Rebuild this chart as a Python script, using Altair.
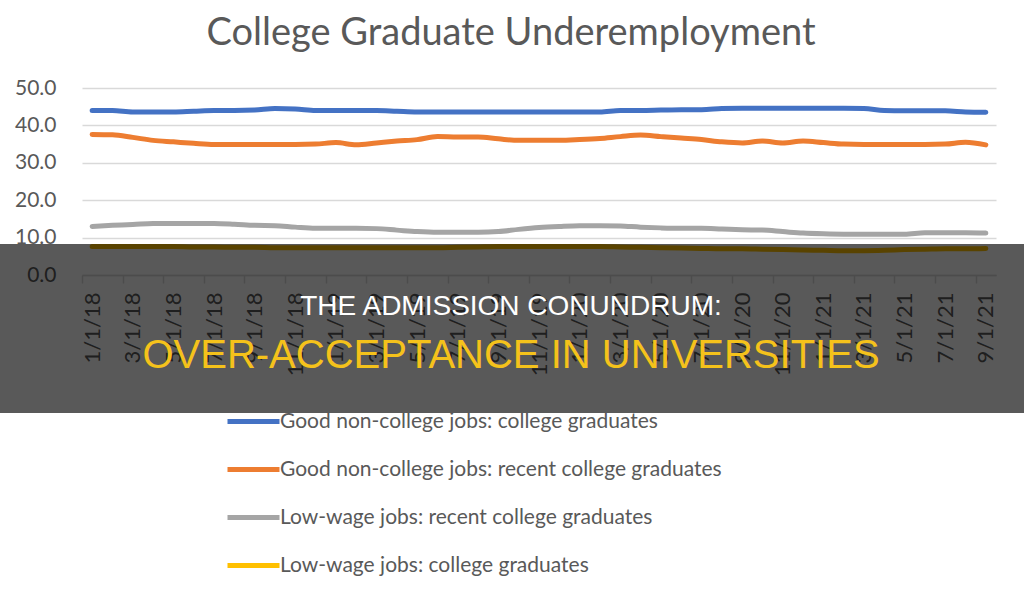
import altair as alt
import pandas as pd

# ---- data ----
months = [f"{m}/1/{y}" for y in (18, 19, 20, 21) for m in range(1, 13)][:45]

series_names = [
    "Good non-college jobs: college graduates",
    "Good non-college jobs: recent college graduates",
    "Low-wage jobs: recent college graduates",
    "Low-wage jobs: college graduates",
]
series_colors = ["#4472C4", "#ED7D31", "#A5A5A5", "#FFC000"]

good_grads = [44.0, 44.0, 43.6, 43.6, 43.6, 43.8, 44.0, 44.0, 44.1, 44.5,
              44.4, 44.0, 44.0, 44.0, 44.0, 43.8, 43.6, 43.6, 43.6, 43.6,
              43.6, 43.6, 43.6, 43.6, 43.6, 43.6, 44.0, 44.0, 44.1, 44.2,
              44.2, 44.5, 44.6, 44.6, 44.6, 44.6, 44.6, 44.6, 44.5, 44.0,
              43.9, 43.9, 43.9, 43.6, 43.5]
good_recent = [37.6, 37.5, 36.8, 36.0, 35.6, 35.2, 34.9, 34.9, 34.9, 34.9,
               34.9, 35.0, 35.4, 34.8, 35.3, 35.8, 36.2, 37.0, 36.9, 36.9,
               36.4, 36.0, 36.0, 36.0, 36.2, 36.5, 37.0, 37.4, 37.0, 36.6,
               36.2, 35.6, 35.3, 35.8, 35.3, 35.8, 35.4, 35.0, 34.9, 34.9,
               34.9, 34.9, 35.0, 35.5, 34.8]
low_recent = [13.0, 13.3, 13.5, 13.8, 13.8, 13.8, 13.8, 13.6, 13.3, 13.2,
              12.8, 12.5, 12.5, 12.5, 12.4, 12.0, 11.6, 11.4, 11.4, 11.4,
              11.6, 12.2, 12.7, 13.0, 13.2, 13.2, 13.1, 12.8, 12.6, 12.5,
              12.5, 12.3, 12.1, 12.0, 11.6, 11.2, 11.0, 10.9, 10.9, 10.9,
              10.9, 11.3, 11.3, 11.3, 11.2]
low_grads = [7.6, 7.6, 7.6, 7.6, 7.6, 7.5, 7.5, 7.4, 7.4, 7.3,
             7.3, 7.3, 7.3, 7.3, 7.3, 7.3, 7.3, 7.3, 7.4, 7.5,
             7.6, 7.6, 7.6, 7.6, 7.6, 7.6, 7.5, 7.4, 7.3, 7.2,
             7.1, 7.0, 7.0, 6.9, 6.8, 6.7, 6.6, 6.5, 6.5, 6.6,
             6.8, 6.9, 7.0, 7.0, 7.1]

y_ticks = [0, 10, 20, 30, 40, 50]
chart_title = "College Graduate Underemployment"
overlay_line1 = ["THE ADMISSION CONUNDRUM:"]
overlay_line2 = ["OVER-ACCEPTANCE IN UNIVERSITIES"]

# ---- build table ----
rows = []
for name, vals in zip(series_names, [good_grads, good_recent, low_recent, low_grads]):
    for i, v in enumerate(vals):
        rows.append({"idx": i, "month": months[i], "series": name, "value": v})
df = pd.DataFrame(rows)

W, H = 914, 187
LEFT, TOP = 82, 88
half_band = W / len(months) / 2

label_array = "[" + ",".join(f"'{m}'" for m in months) + "]"

lines = alt.Chart(df).mark_line(strokeWidth=5, interpolate="monotone", strokeCap="round").encode(
    x=alt.X("idx:Q",
            scale=alt.Scale(domain=[-0.5, len(months) - 0.5], nice=False, zero=False),
            axis=alt.Axis(values=list(range(0, len(months), 2)),
                          labelExpr=f"{label_array}[datum.value]",
                          title=None, grid=False, labelAngle=270,
                          labelFont="Lato", labelFontSize=22, labelColor="#595959",
                          labelPadding=9, labelFlush=False, labelOverlap=False,
                          tickOffset=-half_band, labelOffset=half_band,
                          tickColor="#d9d9d9", tickSize=8, tickWidth=1.5,
                          domainColor="#d9d9d9", domainWidth=1.5, zindex=0)),
    y=alt.Y("value:Q",
            scale=alt.Scale(domain=[0, 50], nice=False),
            axis=alt.Axis(values=y_ticks, format=".1f", title=None,
                          grid=True, gridColor="#d9d9d9", gridWidth=1.5,
                          domain=False, ticks=False, labelPadding=26,
                          labelFont="Lato", labelFontSize=21, labelColor="#595959",
                          zindex=0)),
    color=alt.Color("series:N",
                    scale=alt.Scale(domain=series_names, range=series_colors),
                    sort=series_names,
                    legend=alt.Legend(orient="none", legendX=159, legendY=321,
                                      direction="vertical", title=None,
                                      symbolType="M-2.6,0H2.6", symbolSize=400,
                                      symbolStrokeWidth=5,
                                      labelFont="Lato", labelFontSize=21,
                                      labelColor="#595959", labelOffset=14,
                                      labelLimit=0,
                                      rowPadding=25, padding=0)),
    detail="series:N",
)

one = pd.DataFrame({"t1": overlay_line1, "t2": overlay_line2})

overlay = alt.Chart(one).mark_rect(color="black", opacity=0.65).encode(
    x=alt.value(-LEFT), x2=alt.value(1024 - LEFT),
    y=alt.value(244 - TOP), y2=alt.value(413 - TOP),
)

text1 = alt.Chart(one).mark_text(font="Liberation Sans", fontSize=28, color="white",
                                 align="center", baseline="middle").encode(
    x=alt.value(511 - LEFT), y=alt.value(307 - TOP), text="t1:N")

text2 = alt.Chart(one).mark_text(font="Liberation Sans", fontSize=40, color="#F5C21B",
                                 align="center", baseline="middle").encode(
    x=alt.value(511 - LEFT), y=alt.value(356 - TOP), text="t2:N")

chart = alt.layer(lines, overlay, text1, text2).properties(
    width=W, height=H,
    title=alt.TitleParams(chart_title, font="Lato", fontSize=38, color="#595959",
                          fontWeight="normal", anchor="middle", dx=-28, offset=24),
    autosize=alt.AutoSizeParams(type="none"),
    padding={"left": LEFT, "top": TOP, "right": 1024 - LEFT - W, "bottom": 597 - TOP - H},
    background="white",
).configure_view(stroke=None)

chart.save("out.html", embed_options={"renderer": "svg", "actions": False})
